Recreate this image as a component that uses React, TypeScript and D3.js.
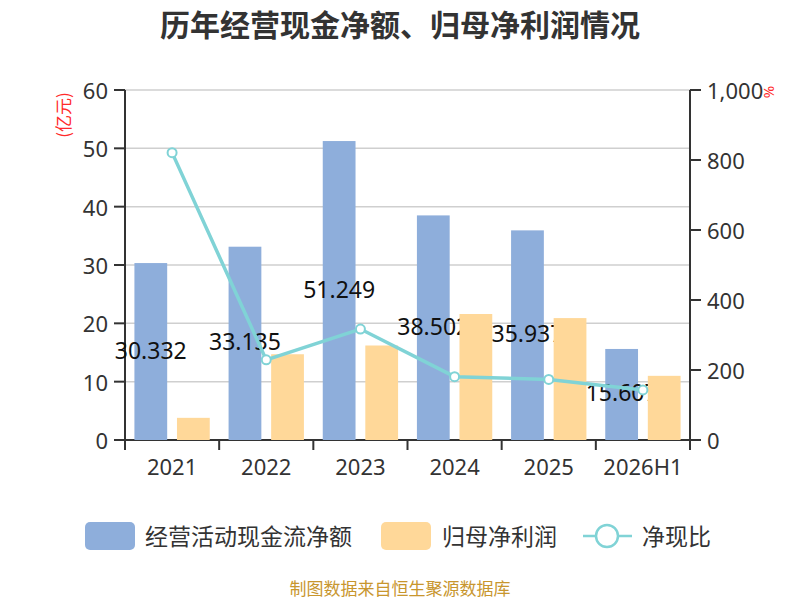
import React from 'react';
import * as d3 from 'd3';

const categories = ['2021', '2022', '2023', '2024', '2025', '2026H1'];
const cashFlow = [30.332, 33.135, 51.249, 38.502, 35.937, 15.607];
const netProfit = [3.8, 14.7, 16.2, 21.6, 20.9, 11.0];
const cashRatio = [821, 229, 317, 181, 173, 143];
const leftTicks = [0, 10, 20, 30, 40, 50, 60];
const rightTicks = [0, 200, 400, 600, 800, 1000];

const W = 800;
const H = 600;
const margin = { top: 90, right: 110, bottom: 160, left: 125 };
const blue = '#8eaedb';
const orange = '#ffd899';
const teal = '#80d3d6';
const font = '"Noto Sans", "Noto Sans CJK SC", sans-serif';
const cjk = '"Noto Sans CJK SC", sans-serif';

export default function App() {
  const x0 = d3.scaleBand()
    .domain(categories)
    .range([margin.left, W - margin.right])
    .paddingInner(0.2)
    .paddingOuter(0.1);

  const x1 = d3.scaleBand()
    .domain(['cash', 'profit'])
    .range([0, x0.bandwidth()])
    .paddingInner(0.23);

  const yL = d3.scaleLinear().domain([0, 60]).range([H - margin.bottom, margin.top]);
  const yR = d3.scaleLinear().domain([0, 1000]).range([H - margin.bottom, margin.top]);

  const step = x0.step();
  const left = margin.left;
  const right = W - margin.right;
  const bottom = H - margin.bottom;
  const center = (c: string) => (x0(c) || 0) + x0.bandwidth() / 2;

  const line = d3.line<number>()
    .x((_, i) => center(categories[i]))
    .y(d => yR(d));

  const fmt = d3.format(',');

  return (
    <svg width={W} height={H} style={{ position: 'absolute', left: 0, top: 0, fontFamily: font }}>
      <rect width={W} height={H} fill="#fff" />
      <text x={400} y={23} textAnchor="middle" dominantBaseline="central"
        fontSize={30} fontWeight="bold" fill="#333" fontFamily={cjk}>
        历年经营现金净额、归母净利润情况
      </text>

      {/* grid */}
      {leftTicks.map(t => (
        <line key={'g' + t} x1={left} x2={right} y1={yL(t)} y2={yL(t)} stroke="#cfcfcf" strokeWidth={1.5} />
      ))}

      {/* left axis */}
      <line x1={left} x2={left} y1={margin.top} y2={bottom} stroke="#333" strokeWidth={2} />
      {leftTicks.map(t => (
        <g key={'l' + t}>
          <line x1={left - 11} x2={left} y1={yL(t)} y2={yL(t)} stroke="#333" strokeWidth={2} />
          <text x={left - 17} y={yL(t)} textAnchor="end" dominantBaseline="central" fontSize={22} fill="#333">{t}</text>
        </g>
      ))}
      <text transform="translate(62,115) rotate(-90)" textAnchor="middle" dominantBaseline="central"
        fontSize={17} fill="#ff2a2a" fontFamily={cjk}>(亿元)</text>

      {/* right axis */}
      <line x1={right} x2={right} y1={margin.top} y2={bottom} stroke="#333" strokeWidth={2} />
      {rightTicks.map(t => (
        <g key={'r' + t}>
          <line x1={right} x2={right + 11} y1={yR(t)} y2={yR(t)} stroke="#333" strokeWidth={2} />
          <text x={right + 17} y={yR(t)} textAnchor="start" dominantBaseline="central" fontSize={22} fill="#333">{fmt(t)}</text>
        </g>
      ))}
      <text transform="translate(768,92) rotate(-90)" textAnchor="middle" dominantBaseline="central"
        fontSize={15} fill="#ff2a2a">%</text>

      {/* x axis */}
      <line x1={left} x2={right} y1={bottom} y2={bottom} stroke="#333" strokeWidth={2} />
      {d3.range(categories.length + 1).map(i => (
        <line key={'xt' + i} x1={left + i * step} x2={left + i * step} y1={bottom} y2={bottom + 10} stroke="#333" strokeWidth={2} />
      ))}
      {categories.map(c => (
        <text key={'xl' + c} x={center(c)} y={bottom + 26} textAnchor="middle" dominantBaseline="central" fontSize={22} fill="#333">{c}</text>
      ))}

      {/* cash flow bars */}
      {categories.map((c, i) => (
        <rect key={'b' + c} x={(x0(c) || 0) + (x1('cash') || 0)} y={yL(cashFlow[i])}
          width={x1.bandwidth()} height={bottom - yL(cashFlow[i])} fill={blue} />
      ))}
      {categories.map((c, i) => (
        <text key={'bl' + c} x={(x0(c) || 0) + (x1('cash') || 0) + x1.bandwidth() / 2}
          y={yL(cashFlow[i] / 2) - 2} textAnchor="middle" dominantBaseline="central" fontSize={23} fill="#111">
          {cashFlow[i].toFixed(3)}
        </text>
      ))}

      {/* net profit bars */}
      {categories.map((c, i) => (
        <rect key={'o' + c} x={(x0(c) || 0) + (x1('profit') || 0)} y={yL(netProfit[i])}
          width={x1.bandwidth()} height={bottom - yL(netProfit[i])} fill={orange} />
      ))}

      {/* ratio line */}
      <path d={line(cashRatio) || ''} fill="none" stroke={teal} strokeWidth={3.5} />
      {cashRatio.map((v, i) => (
        <circle key={'p' + i} cx={center(categories[i])} cy={yR(v)} r={4.5} fill="#fff" stroke={teal} strokeWidth={2} />
      ))}

      {/* legend */}
      <rect x={85} y={522} width={50} height={28} rx={5} fill={blue} />
      <text x={145} y={535} dominantBaseline="central" fontSize={23} fill="#333" fontFamily={cjk}>经营活动现金流净额</text>
      <rect x={381} y={522} width={50} height={28} rx={5} fill={orange} />
      <text x={442} y={535} dominantBaseline="central" fontSize={23} fill="#333" fontFamily={cjk}>归母净利润</text>
      <line x1={583} x2={632} y1={536} y2={536} stroke={teal} strokeWidth={2.5} />
      <circle cx={607} cy={536} r={11} fill="#fff" stroke={teal} strokeWidth={2.5} />
      <text x={642} y={535} dominantBaseline="central" fontSize={23} fill="#333" fontFamily={cjk}>净现比</text>

      <text x={400} y={587} textAnchor="middle" dominantBaseline="central" fontSize={17} fill="#c8962e"
        fontFamily={cjk}>制图数据来自恒生聚源数据库</text>
    </svg>
  );
}
